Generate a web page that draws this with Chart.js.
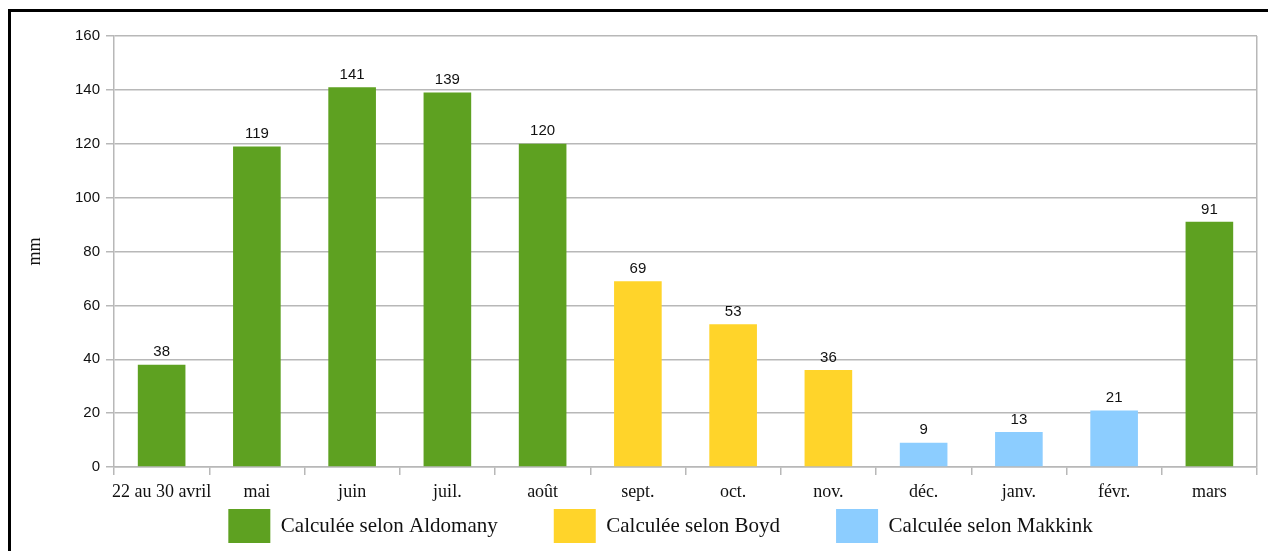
<!DOCTYPE html>
<html>
<head>
<meta charset="utf-8">
<script src="https://cdn.jsdelivr.net/npm/chart.js@4/dist/chart.umd.min.js"></script>
<style>
body{margin:0;background:#fff;}
#wrap{position:relative;width:1268px;height:551px;}
#frame{position:absolute;left:8px;top:9px;right:-10px;bottom:-10px;border-top:3px solid #000;border-left:3px solid #000;pointer-events:none;}
</style>
</head>
<body>
<div id="wrap">
<canvas id="chart"></canvas>
<div id="frame"></div>
</div>
<script>
const labels=["22 au 30 avril","mai","juin","juil.","août","sept.","oct.","nov.","déc.","janv.","févr.","mars"];
const aldomany=[38,119,141,139,120,null,null,null,null,null,null,91];
const boyd=[null,null,null,null,null,69,53,36,null,null,null,null];
const makkink=[null,null,null,null,null,null,null,null,9,13,21,null];
const yTicks=[0,20,40,60,80,100,120,140,160];

const gridColor="#b8b8b8";

// valeurs au-dessus des barres
const valueLabels={
    id:"valueLabels",
    afterDatasetsDraw(chart){
        const ctx=chart.ctx;
        ctx.save();
        ctx.font="15px 'Liberation Sans', Arial, sans-serif";
        ctx.fillStyle="#111";
        ctx.textAlign="center";
        ctx.textBaseline="bottom";
        chart.data.datasets.forEach((ds,i)=>{
            chart.getDatasetMeta(i).data.forEach((el,j)=>{
                if(ds.data[j]==null)return;
                ctx.fillText(ds.data[j]+"",el.x,el.y-5);
            });
        });
        ctx.restore();
    }
};

// la légende remonte sous les étiquettes de l'axe x
const legendPlace={
    id:"legendPlace",
    afterLayout(chart){
        const lg=chart.legend;
        lg.top=chart.chartArea.bottom-14;
        lg.left+=22;
        lg.right+=22;
    }
};

new Chart(document.getElementById("chart"),{
    type:"bar",
    data:{
        labels:labels,
        datasets:[
            {label:"Calculée selon Aldomany",data:aldomany,backgroundColor:"#5ea121"},
            {label:"Calculée selon Boyd",data:boyd,backgroundColor:"#ffd42a"},
            {label:"Calculée selon Makkink",data:makkink,backgroundColor:"#8ccdff"}
        ]
    },
    options:{
        responsive:true,
        maintainAspectRatio:false,
        animation:false,
        layout:{padding:{left:20,right:11,top:36,bottom:-52}},
        datasets:{bar:{grouped:false,barPercentage:0.5,categoryPercentage:1,skipNull:true}},
        plugins:{
            legend:{
                position:"bottom",
                labels:{
                    boxWidth:42,
                    boxHeight:34,
                    padding:56,
                    color:"#111",
                    font:{family:"'Liberation Serif', 'Times New Roman', serif",size:21}
                }
            },
            tooltip:{enabled:false}
        },
        scales:{
            x:{
                afterFit:s=>{s.height=36;},
                grid:{
                    offset:true,
                    color:c=>c.index===undefined?gridColor:"rgba(0,0,0,0)",
                    tickColor:gridColor,
                    tickLength:8,
                    lineWidth:1.5
                },
                border:{color:gridColor,width:1.5},
                ticks:{
                    color:"#111",
                    padding:6,
                    maxRotation:0,
                    autoSkip:false,
                    font:{family:"'Liberation Serif', 'Times New Roman', serif",size:18}
                }
            },
            y:{
                min:0,
                max:160,
                afterFit:s=>{s.width=94;},
                afterBuildTicks:s=>{s.ticks=yTicks.map(v=>({value:v}));},
                grid:{color:gridColor,tickColor:gridColor,tickLength:8,lineWidth:1.5},
                border:{color:gridColor,width:1.5},
                ticks:{
                    color:"#111",
                    padding:6,
                    font:{family:"'Liberation Sans', Arial, sans-serif",size:15}
                },
                title:{
                    display:true,
                    text:"mm",
                    color:"#111",
                    font:{family:"'Liberation Serif', 'Times New Roman', serif",size:18}
                }
            }
        }
    },
    plugins:[valueLabels,legendPlace]
});
</script>
</body>
</html>
